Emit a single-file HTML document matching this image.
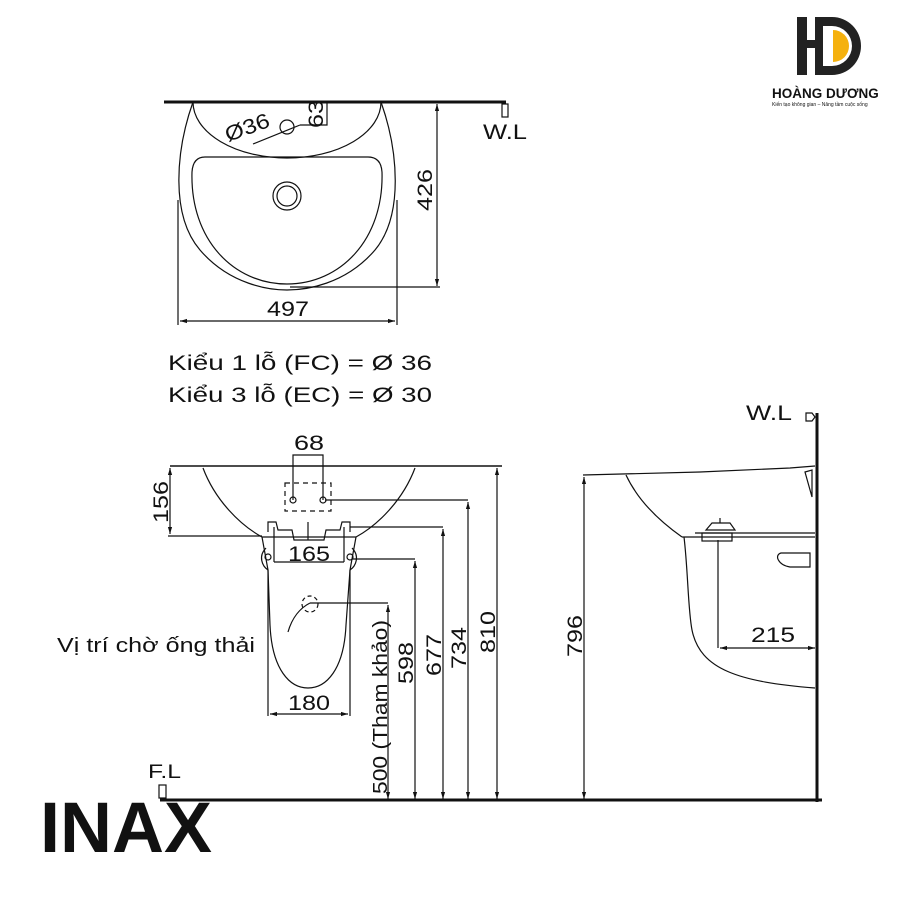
<!DOCTYPE html>
<html><head><meta charset="utf-8"><style>
html,body{margin:0;padding:0;background:#fff;}
svg{display:block;}
text{font-family:"Liberation Sans",sans-serif;fill:#111;}
.n{font-size:21px;}
</style></head><body>
<svg width="900" height="900" viewBox="0 0 900 900" xmlns="http://www.w3.org/2000/svg">
<defs>
<marker id="a" viewBox="0 0 10 10" refX="10" refY="5" markerWidth="6" markerHeight="6" orient="auto-start-reverse"><path d="M0,2 L10,5 L0,8 z" fill="#111"/></marker>
</defs>
<g fill="none" stroke="#111" stroke-width="1.2">
<line x1="164" y1="102" x2="506" y2="102" stroke-width="3"/>
<path d="M193,102 C176,150 170,215 200,250 C230,285 270,290 287,290 C305,290 345,285 375,250 C404,215 398,150 381,102"/>
<path d="M193,102 A94,56 0 0 0 381,102"/>
<path d="M205,157 L368,157 Q381,157 382,172 C384,240 340,284 287,284 C234,284 190,240 192,172 Q193,157 205,157 Z"/>
<circle cx="287" cy="196" r="14"/>
<circle cx="287" cy="196" r="10"/>
<circle cx="287" cy="127" r="7"/>
<line x1="253" y1="144" x2="300" y2="125"/>
<polyline points="300,125 327,125 327,102"/>
<line x1="437" y1="104" x2="437" y2="286" marker-start="url(#a)" marker-end="url(#a)"/>
<line x1="290" y1="287" x2="440" y2="287"/>
<line x1="178" y1="200" x2="178" y2="325"/>
<line x1="397" y1="200" x2="397" y2="325"/>
<line x1="180" y1="321" x2="395" y2="321" marker-start="url(#a)" marker-end="url(#a)"/>
<rect x="502" y="104" width="6" height="13"/>
<line x1="170" y1="466" x2="502" y2="466" stroke-width="1.5"/>
<path d="M203,468 C215,500 240,525 262,537 L356,537 C378,525 403,500 415,468"/>
<line x1="168" y1="536" x2="262" y2="536"/>
<line x1="170" y1="468" x2="170" y2="534" marker-start="url(#a)" marker-end="url(#a)"/>
<path d="M262,537 L268,570 L270,625 C272,670 290,688 308,688 C326,688 344,670 346,625 L350,570 L356,537"/>
<path d="M266,548 C258,556 262,566 268,570"/>
<path d="M352,548 C360,556 356,566 350,570"/>
<line x1="268" y1="570" x2="268" y2="716"/>
<line x1="350" y1="570" x2="350" y2="716"/>
<line x1="270" y1="714" x2="348" y2="714" marker-start="url(#a)" marker-end="url(#a)"/>
<line x1="274" y1="527" x2="274" y2="562"/>
<line x1="344" y1="527" x2="344" y2="562"/>
<line x1="274" y1="562" x2="344" y2="562"/>
<path d="M268,532 L268,522 L276,522 L278,530 L292,530 L294,540 L324,540 L326,530 L340,530 L342,522 L350,522 L350,532"/>
<line x1="308" y1="522" x2="308" y2="540"/>
<polyline points="293,500 293,455 323,455 323,500"/>
<rect x="285" y="483" width="46" height="28" stroke-dasharray="5,4"/>
<circle cx="293" cy="500" r="3"/><circle cx="323" cy="500" r="3"/>
<circle cx="268" cy="557" r="3"/><circle cx="350" cy="557" r="3"/>
<path d="M288,632 C292,618 300,608 310,603"/>
<circle cx="310" cy="604" r="8" stroke-dasharray="4,3"/>
<line x1="310" y1="603" x2="388" y2="603"/>
<line x1="388" y1="605" x2="388" y2="799" marker-start="url(#a)" marker-end="url(#a)"/>
<line x1="352" y1="559" x2="415" y2="559"/>
<line x1="415" y1="561" x2="415" y2="799" marker-start="url(#a)" marker-end="url(#a)"/>
<line x1="350" y1="527" x2="443" y2="527"/>
<line x1="443" y1="529" x2="443" y2="799" marker-start="url(#a)" marker-end="url(#a)"/>
<line x1="325" y1="500" x2="468" y2="500"/>
<line x1="468" y1="502" x2="468" y2="799" marker-start="url(#a)" marker-end="url(#a)"/>
<line x1="497" y1="468" x2="497" y2="799" marker-start="url(#a)" marker-end="url(#a)"/>
<line x1="160" y1="800" x2="822" y2="800" stroke-width="3"/>
<rect x="159" y="785" width="7" height="13"/>
<line x1="817" y1="413" x2="817" y2="802" stroke-width="3"/>
<path d="M806,413 L812,413 L815,417 L812,421 L806,421 Z"/>
<path d="M583,475 L700,472 L790,468 L815,466"/>
<line x1="584" y1="477" x2="584" y2="799" marker-start="url(#a)" marker-end="url(#a)"/>
<path d="M626,475 C640,505 665,525 682,537"/>
<line x1="682" y1="537" x2="815" y2="537"/>
<line x1="695" y1="533" x2="815" y2="533"/>
<path d="M684,537 C688,570 688,610 692,630 C700,670 740,682 815,688"/>
<path d="M706,530 L735,530 L730,523 L712,523 Z"/>
<line x1="720" y1="518" x2="720" y2="523"/>
<rect x="702" y="533" width="30" height="8"/>
<path d="M781,553 L810,553 L810,567 L790,567 C778,565 774,555 781,553 Z"/>
<path d="M805,472 L812,470 L812,497 Z"/>
<line x1="718" y1="540" x2="718" y2="648"/>
<line x1="720" y1="648" x2="815" y2="648" marker-start="url(#a)" marker-end="url(#a)"/>
</g>
<text x="228" y="142" class="n" textLength="46" lengthAdjust="spacingAndGlyphs" transform="rotate(-20 228 142)">Ø36</text>
<text x="323" y="128" class="n" textLength="28" lengthAdjust="spacingAndGlyphs" transform="rotate(-90 323 128)">63</text>
<text x="432" y="211" class="n" textLength="42" lengthAdjust="spacingAndGlyphs" transform="rotate(-90 432 211)">426</text>
<text x="267" y="316" class="n" textLength="42" lengthAdjust="spacingAndGlyphs">497</text>
<text x="483" y="139" class="n" textLength="44" lengthAdjust="spacingAndGlyphs">W.L</text>
<text x="168" y="370" class="n" textLength="264" lengthAdjust="spacingAndGlyphs">Kiểu 1 lỗ (FC) = Ø 36</text>
<text x="168" y="402" class="n" textLength="264" lengthAdjust="spacingAndGlyphs">Kiểu 3 lỗ (EC) = Ø 30</text>
<text x="294" y="450" class="n" textLength="30" lengthAdjust="spacingAndGlyphs">68</text>
<text x="168" y="523" class="n" textLength="42" lengthAdjust="spacingAndGlyphs" transform="rotate(-90 168 523)">156</text>
<text x="288" y="561" class="n" textLength="42" lengthAdjust="spacingAndGlyphs">165</text>
<text x="288" y="710" class="n" textLength="42" lengthAdjust="spacingAndGlyphs">180</text>
<text x="57" y="652" font-size="20" textLength="198" lengthAdjust="spacingAndGlyphs">Vị trí chờ ống thải</text>
<text x="387" y="794" font-size="20" textLength="174" lengthAdjust="spacingAndGlyphs" transform="rotate(-90 387 794)">500 (Tham khảo)</text>
<text x="413" y="684" class="n" textLength="42" lengthAdjust="spacingAndGlyphs" transform="rotate(-90 413 684)">598</text>
<text x="441" y="676" class="n" textLength="42" lengthAdjust="spacingAndGlyphs" transform="rotate(-90 441 676)">677</text>
<text x="466" y="669" class="n" textLength="42" lengthAdjust="spacingAndGlyphs" transform="rotate(-90 466 669)">734</text>
<text x="495" y="653" class="n" textLength="42" lengthAdjust="spacingAndGlyphs" transform="rotate(-90 495 653)">810</text>
<text x="148" y="778" font-size="19" textLength="33" lengthAdjust="spacingAndGlyphs">F.L</text>
<text x="40" y="852" font-size="71" font-weight="bold" textLength="172" lengthAdjust="spacingAndGlyphs">INAX</text>
<text x="746" y="420" class="n" textLength="46" lengthAdjust="spacingAndGlyphs">W.L</text>
<text x="582" y="657" class="n" textLength="42" lengthAdjust="spacingAndGlyphs" transform="rotate(-90 582 657)">796</text>
<text x="751" y="642" class="n" textLength="44" lengthAdjust="spacingAndGlyphs">215</text>
<rect x="797" y="17" width="10" height="58" fill="#222"/>
<path d="M815,17 L832,17 A29,29 0 0 1 832,75 L815,75 Z M823,26 L823,66 L832,66 A20,20 0 0 0 832,26 Z" fill="#222" fill-rule="evenodd"/>
<path d="M833,30 A16,16 0 0 1 833,62 Z" fill="#f5b10e"/>
<rect x="807" y="40" width="14" height="8" fill="#222"/>
<text x="772" y="98" font-size="13.5" font-weight="bold" fill="#222">HOÀNG DƯƠNG</text>
<text x="772" y="106" font-size="5" fill="#222">Kiến tạo không gian – Nâng tầm cuộc sống</text>
</svg>
</body></html>
